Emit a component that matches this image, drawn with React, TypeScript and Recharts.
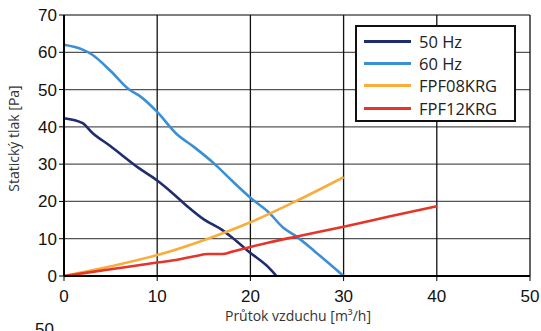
import { LineChart, Line, XAxis, YAxis, CartesianGrid } from 'recharts';

// flow [m3/h] vs static pressure [Pa]
const hz50 = [
  [0, 42.3], [2, 41], [3, 38.5], [5, 34.8], [8, 29], [10, 25.6], [11, 23.6],
  [13, 19.2], [15, 15.2], [17, 12.3], [18, 10.4], [20, 6.2], [22, 2.2], [22.8, 0],
];
const hz60 = [
  [0, 62], [2, 60.7], [3, 59.4], [5, 55], [7, 50], [8, 48.5], [10, 44],
  [12, 38.3], [14, 34.5], [16, 30.4], [18, 25.6], [20, 21], [22, 17],
  [23.5, 13], [25, 10.5], [27, 6.4], [30, 0],
];
const fpf08 = [
  [0, 0], [5, 2.6], [10, 5.6], [15, 9.6], [20, 14.4], [25, 20.2], [30, 26.5],
];
const fpf12 = [
  [0, 0], [5, 1.8], [10, 3.6], [12, 4.3], [14, 5.3], [15.5, 5.9], [17, 5.9],
  [18, 6.5], [20, 7.8], [22, 9], [25, 10.6], [30, 13.2], [35, 16], [40, 18.7],
];

const xTicks = [0, 10, 20, 30, 40, 50];
const yTicks = [0, 10, 20, 30, 40, 50, 60, 70];

const toRows = (pts: number[][]) => pts.map(([x, y]) => ({ x, y }));

const series = [
  { name: '50 Hz', data: toRows(hz50), color: '#1f2d6e' },
  { name: '60 Hz', data: toRows(hz60), color: '#3b8fd4' },
  { name: 'FPF08KRG', data: toRows(fpf08), color: '#f8ad3c' },
  { name: 'FPF12KRG', data: toRows(fpf12), color: '#e53428' },
];

const tickStyle = { fontFamily: '"Liberation Sans", Arial, sans-serif', fontSize: 17, fill: '#111' };
const labelFont = '"Open Sans", "Noto Sans", sans-serif';

function LegendBox() {
  return (
    <div
      style={{
        position: 'absolute',
        left: 355,
        top: 25,
        width: 161,
        height: 97,
        border: '2px solid #111',
        background: '#fff',
        padding: '3px 0 0 7px',
        boxSizing: 'border-box',
        fontFamily: labelFont,
        fontSize: 16.5,
        color: '#222',
      }}
    >
      {series.map((s) => (
        <div key={s.name} style={{ display: 'flex', alignItems: 'center', height: 22.3 }}>
          <span style={{ display: 'inline-block', width: 47, height: 3, background: s.color, marginRight: 8 }} />
          <span>{s.name}</span>
        </div>
      ))}
    </div>
  );
}

export default function App() {
  return (
    <div style={{ position: 'absolute', left: 0, top: 0, width: 541, height: 331, overflow: 'hidden', background: '#fff' }}>
      <LineChart width={541} height={331} margin={{ top: 15, right: 11, bottom: 0, left: 0 }}>
        <CartesianGrid vertical={false} stroke="#555" strokeWidth={1.3} />
        <CartesianGrid horizontal={false} stroke="#111" strokeWidth={1.3} />
        <XAxis
          type="number"
          dataKey="x"
          domain={[0, 50]}
          ticks={xTicks}
          height={55}
          tick={tickStyle}
          tickSize={5}
          tickMargin={9}
          axisLine={{ stroke: '#000', strokeWidth: 2 }}
          tickLine={{ stroke: '#000' }}
          allowDuplicatedCategory={false}
        />
        <YAxis
          type="number"
          dataKey="y"
          domain={[0, 70]}
          ticks={yTicks}
          width={64}
          tick={tickStyle}
          tickSize={5}
          tickMargin={2}
          axisLine={{ stroke: '#000', strokeWidth: 2 }}
          tickLine={{ stroke: '#000' }}
        />
        {series.map((s) => (
          <Line
            key={s.name}
            data={s.data}
            dataKey="y"
            name={s.name}
            type="monotone"
            stroke={s.color}
            strokeWidth={2.6}
            dot={false}
            isAnimationActive={false}
          />
        ))}
      </LineChart>
      <LegendBox />
      <div
        style={{
          position: 'absolute',
          left: 5,
          top: 75,
          width: 17,
          height: 127,
          display: 'flex',
          alignItems: 'center',
          justifyContent: 'center',
        }}
      >
        <div
          style={{
            transform: 'rotate(-90deg)',
            whiteSpace: 'nowrap',
            fontFamily: labelFont,
            fontSize: 14,
            color: '#333',
          }}
        >
          Statický tlak [Pa]
        </div>
      </div>
      <div
        style={{
          position: 'absolute',
          left: 0,
          width: 596,
          top: 306,
          textAlign: 'center',
          fontFamily: labelFont,
          fontSize: 14,
          color: '#333',
        }}
      >
        Průtok vzduchu [m³/h]
      </div>
      <div style={{ position: 'absolute', left: 35, top: 320, fontFamily: tickStyle.fontFamily, fontSize: 17, color: '#111' }}>
        50
      </div>
    </div>
  );
}
